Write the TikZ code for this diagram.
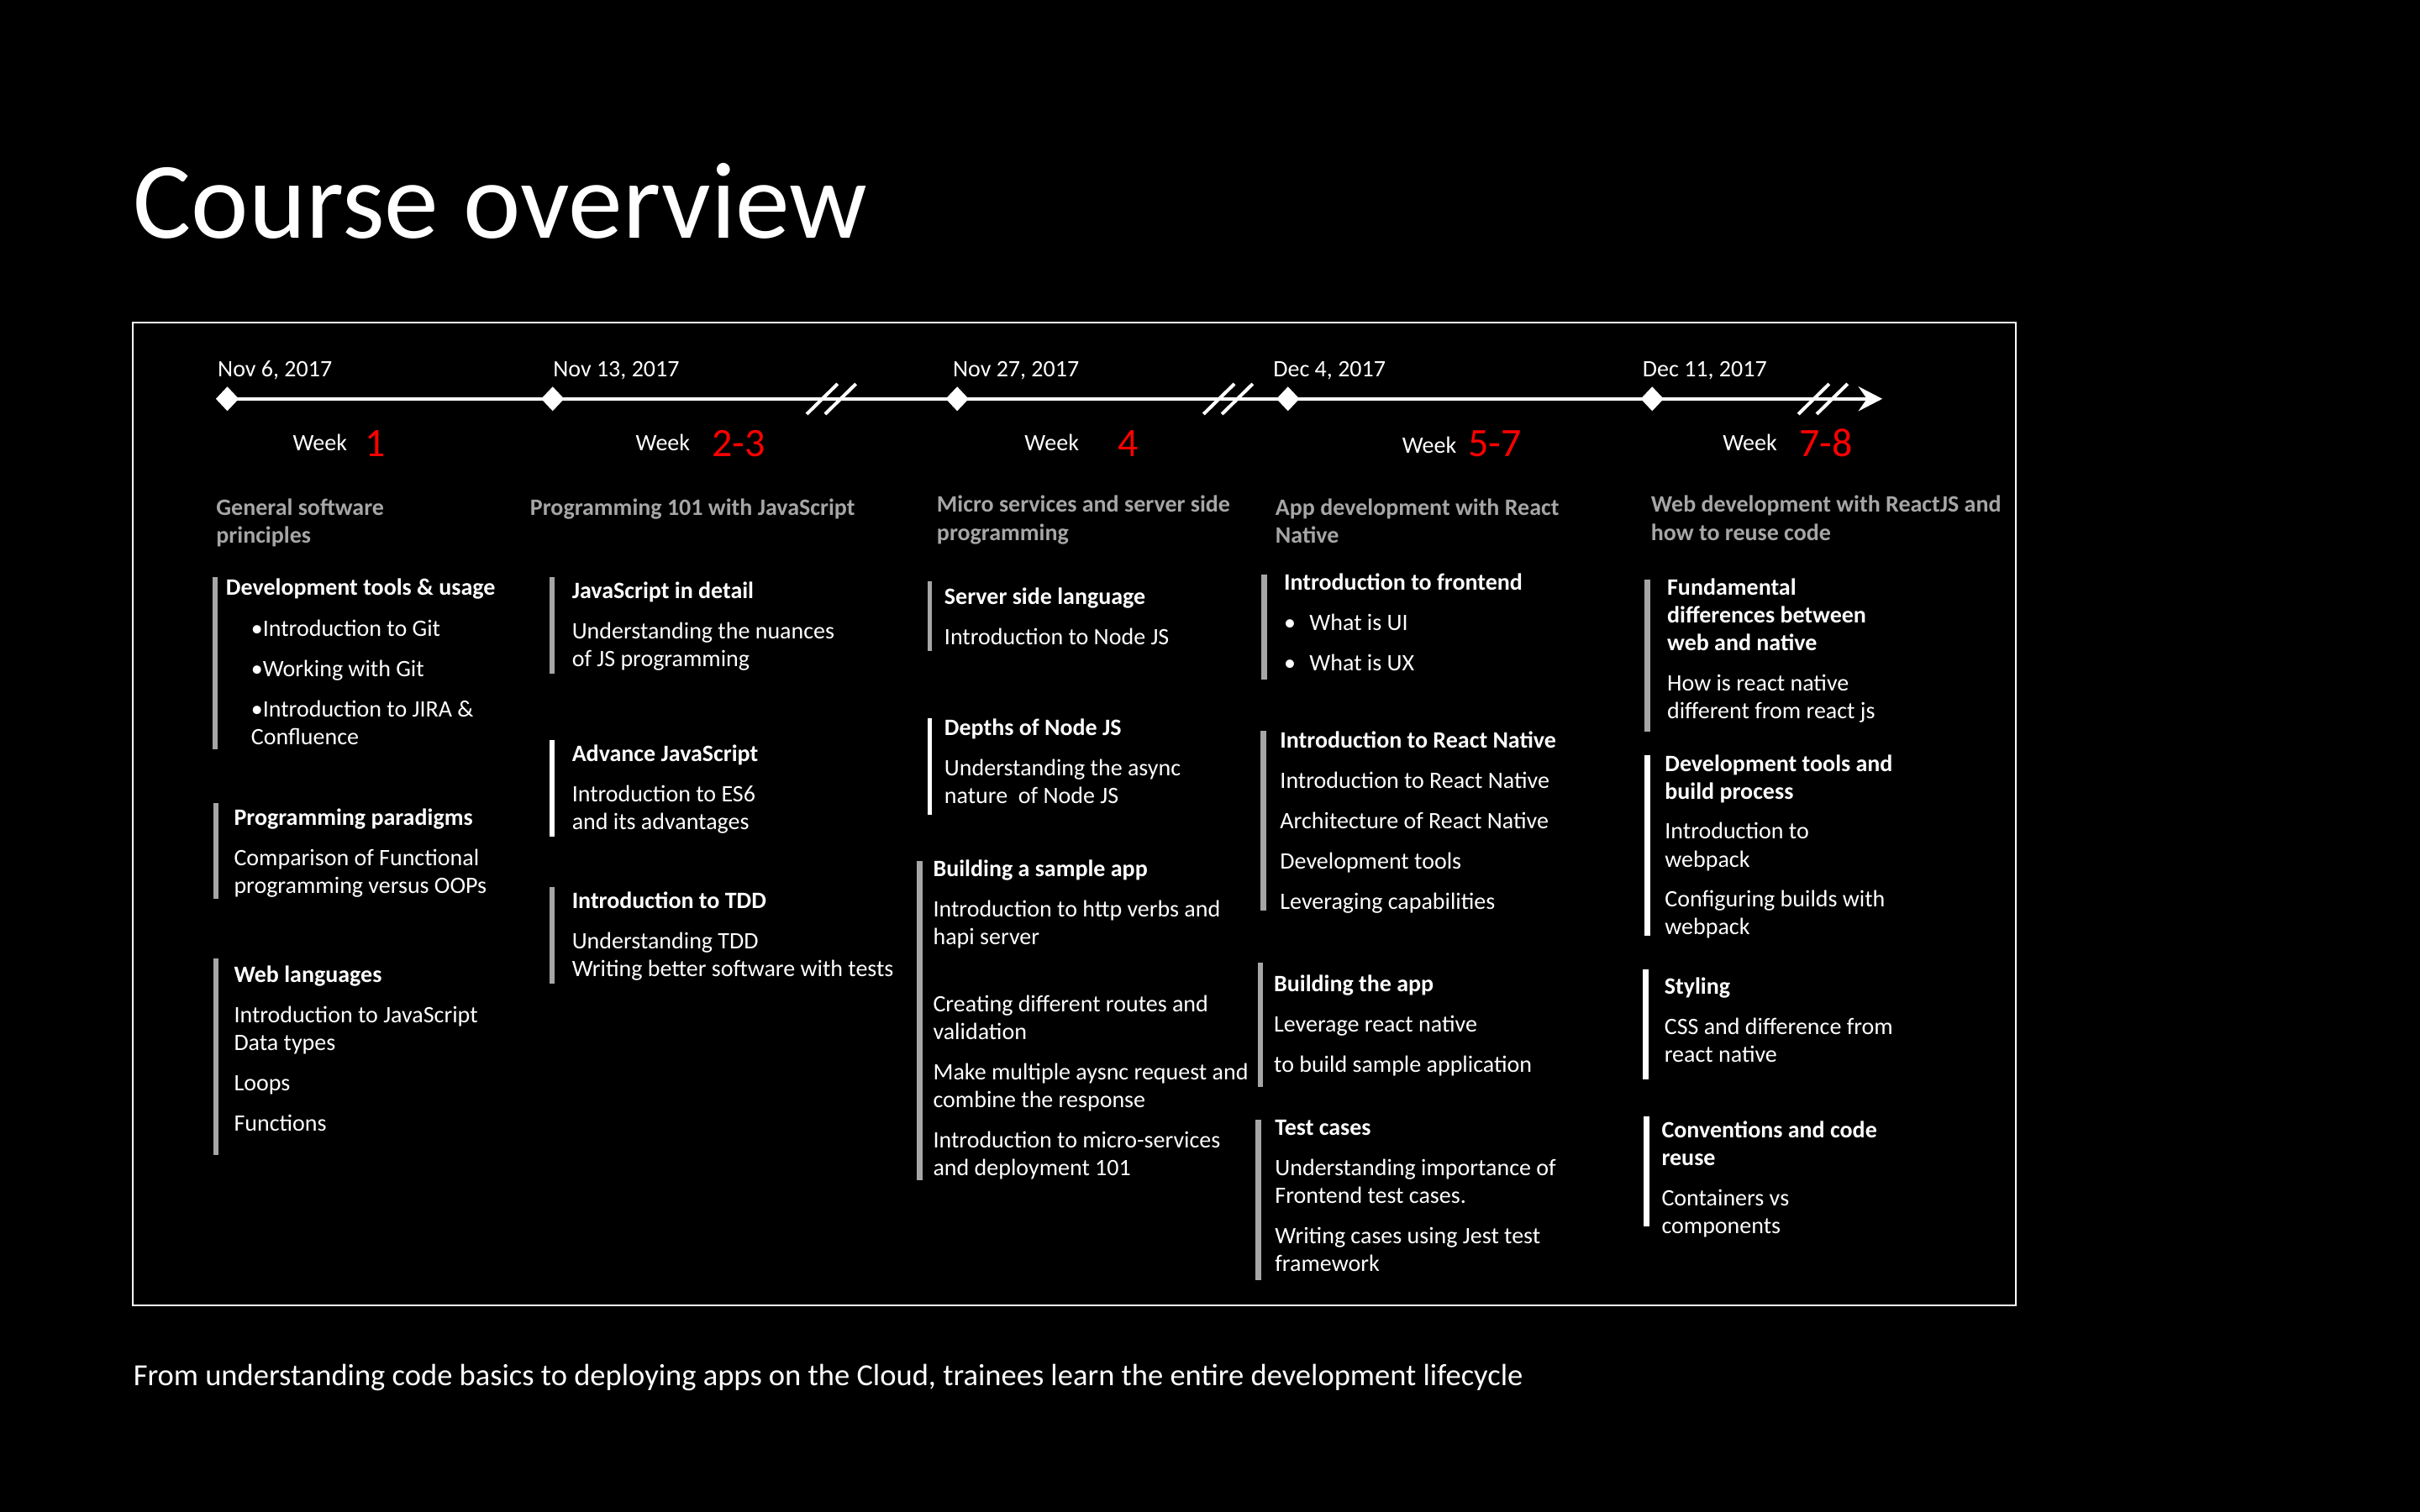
\documentclass[tikz,border=0pt]{standalone}
\usepackage{fontspec}
\setmainfont{Carlito}
\usetikzlibrary{shapes.geometric,arrows.meta}
\definecolor{headgray}{HTML}{A6A6A6}
\definecolor{bargray}{HTML}{A6A6A6}
\definecolor{weekred}{HTML}{FF0000}
\newcommand{\smallfont}{\fontsize{7}{8.27}\selectfont}
\newcommand{\bul}{\makebox[7.6pt][l]{•}}
\newcommand{\rows}[1]{\begin{tabular}[t]{@{}l@{}}#1\end{tabular}}

\begin{document}
\begin{tikzpicture}[x=0.4592pt,y=-0.4592pt,
        every node/.style={inner sep=0pt,anchor=base west,text=white},
        stone node/.style={diamond,fill=white,minimum width=7pt,minimum height=7.4pt,anchor=center},
        date node/.style={font=\smallfont},
        week node/.style={font=\smallfont},
        num node/.style={font=\fontsize{12}{14}\selectfont,text=weekred},
        item node/.style={font=\smallfont},
        head node/.style={font=\smallfont\bfseries,text=headgray},
        gray bar/.style={fill=bargray},
        white bar/.style={fill=white},
        break mark/.style={draw=white,line width=1pt}]

        \path[use as bounding box,fill=black] (0,0) rectangle (1568,980);

        \node[font=\fontsize{32.4}{38}\selectfont] (title) at (86,154.3) {Course overview};
        \draw[white,line width=0.5pt] (86,209) rectangle (1306,846);

        \node[stone node] (d1) at (147.3,258.5) {};
        \node[stone node] (d2) at (358.1,258.5) {};
        \node[stone node] (d3) at (620.2,258.5) {};
        \node[stone node] (d4) at (834.5,258.5) {};
        \node[stone node] (d5) at (1070.5,258.5) {};
        \coordinate (tip) at (1219.6,258.5);
        \draw[white,line width=1pt,-{Stealth[length=7.1pt,width=7.3pt,inset=2.5pt]}] (d1.center) -- (tip);
        \foreach \c in {538.2,795.3,1180.7}
          \draw[break mark] (\c-15.5,268.4) -- ++(20,-19.6) (\c-3.6,268.4) -- ++(20,-19.6);

        \node[date node] (dt1) at (140.7,244.1) {Nov 6, 2017};
        \node[date node] (dt2) at (358,244.1) {Nov 13, 2017};
        \node[date node] (dt3) at (617,244.1) {Nov 27, 2017};
        \node[date node] (dt4) at (824.6,244.1) {Dec 4, 2017};
        \node[date node] (dt5) at (1063.9,244.1) {Dec 11, 2017};

        \node[week node] (wk1) at (189.3,292.2) {Week};
        \node[week node] (wk2) at (411.5,292.2) {Week};
        \node[week node] (wk3) at (663.5,292.2) {Week};
        \node[week node] (wk4) at (908.1,293.7) {Week};
        \node[week node] (wk5) at (1115.8,292.2) {Week};
        \node[num node] (nm1) at (236.2,295.8) {1};
        \node[num node] (nm2) at (460.8,295.8) {2-3};
        \node[num node] (nm3) at (724,295.8) {4};
        \node[num node] (nm4) at (951,295.8) {5-7};
        \node[num node] (nm5) at (1165.5,295.8) {7-8};

        \node[head node] (hd1) at (139.7,334) {\rows{General software\\principles}};
        \node[head node] (hd2) at (343.1,334) {Programming 101 with JavaScript};
        \node[head node] (hd3) at (606.6,332.1) {\rows{Micro services and server side\\programming}};
        \node[head node] (hd4) at (826,334) {\rows{App development with React\\Native}};
        \node[head node] (hd5) at (1069.3,332.1) {\rows{Web development with ReactJS and\\how to reuse code}};

        \fill[gray bar] (138,374) rectangle (141.2,485.5);
        \node[item node,font=\smallfont\bfseries] (b11) at (146,386) {Development tools \& usage};
        \node[item node] (b11i) at (162.3,412.3) {\rows{•Introduction to Git\\[3.7pt]•Working with Git\\[3.7pt]•Introduction to JIRA \&\\Confluence}};
        \fill[gray bar] (138.5,520.3) rectangle (141.7,582.8);
        \node[item node] (b12) at (151.2,534.8) {\rows{\textbf{Programming paradigms}\\[3.7pt]Comparison of Functional\\programming versus OOPs}};
        \fill[gray bar] (138.5,621) rectangle (141.7,748.5);
        \node[item node] (b13) at (151.2,636.8) {\rows{\textbf{Web languages}\\[3.7pt]Introduction to JavaScript\\Data types\\[3.7pt]Loops\\[3.7pt]Functions}};

        \fill[gray bar] (356.2,374) rectangle (359.5,436.5);
        \node[item node] (b21) at (370.2,387.8) {\rows{\textbf{JavaScript in detail}\\[3.7pt]Understanding the nuances\\of JS programming}};
        \fill[white bar] (356.2,479.8) rectangle (359.5,542.3);
        \node[item node] (b22) at (370.2,493.5) {\rows{\textbf{Advance JavaScript}\\[3.7pt]Introduction to ES6\\and its advantages}};
        \fill[gray bar] (356.2,574.8) rectangle (359.5,637.3);
        \node[item node] (b23) at (370.2,589) {\rows{\textbf{Introduction to TDD}\\[3.7pt]Understanding TDD\\Writing better software with tests}};

        \fill[gray bar] (600.8,377) rectangle (604,422.2);
        \node[item node] (b31) at (611.5,391.7) {\rows{\textbf{Server side language}\\[3.7pt]Introduction to Node JS}};
        \fill[white bar] (600.8,465.6) rectangle (604,528.3);
        \node[item node] (b32) at (611.5,476.9) {\rows{\textbf{Depths of Node JS}\\[3.7pt]Understanding the async\\nature\ \ of Node JS}};
        \fill[gray bar] (594.2,557.9) rectangle (597.8,765);
        \node[item node] (b33) at (604.2,568) {\rows{\textbf{Building a sample app}\\[3.7pt]Introduction to http verbs and\\hapi server\\[11.9pt]Creating different routes and\\validation\\[3.7pt]Make multiple aysnc request and\\combine the response\\[3.7pt]Introduction to micro-services\\and deployment 101}};

        \fill[gray bar] (817.2,372.4) rectangle (820.8,440.3);
        \node[item node] (b41) at (831.5,382.5) {\rows{\textbf{Introduction to frontend}\\[3.7pt]\bul What is UI\\[3.7pt]\bul What is UX}};
        \fill[gray bar] (816.5,473.9) rectangle (820.2,590.3);
        \node[item node] (b42) at (829,484.9) {\rows{\textbf{Introduction to React Native}\\[3.7pt]Introduction to React Native\\[3.7pt]Architecture of React Native\\[3.7pt]Development tools\\[3.7pt]Leveraging capabilities}};
        \fill[gray bar] (815,623.9) rectangle (818.3,704.6);
        \node[item node] (b43) at (825,642.8) {\rows{\textbf{Building the app}\\[3.7pt]Leverage react native\\[3.7pt]to build sample application}};
        \fill[gray bar] (813.5,726) rectangle (817.2,829.8);
        \node[item node] (b44) at (825.7,736) {\rows{\textbf{Test cases}\\[3.7pt]Understanding importance of\\Frontend test cases.\\[3.7pt]Writing cases using Jest test\\framework}};

        \fill[gray bar] (1065.6,375.9) rectangle (1069.4,474.2);
        \node[item node] (b51) at (1079.8,385.8) {\rows{\textbf{Fundamental}\\\textbf{differences between}\\\textbf{web and native}\\[3.7pt]How is react native\\different from react js}};
        \fill[white bar] (1065.3,489.6) rectangle (1069.3,606.3);
        \node[item node] (b52) at (1078.3,499.8) {\rows{\textbf{Development tools and}\\\textbf{build process}\\[3.7pt]Introduction to\\webpack\\[3.7pt]Configuring builds with\\webpack}};
        \fill[white bar] (1064.4,628.1) rectangle (1068.4,699.6);
        \node[item node] (b53) at (1078,644.2) {\rows{\textbf{Styling}\\[3.7pt]CSS and difference from\\react native}};
        \fill[white bar] (1064.9,723.5) rectangle (1068.5,795);
        \node[item node] (b54) at (1076.2,737.5) {\rows{\textbf{Conventions and code}\\\textbf{reuse}\\[3.7pt]Containers vs\\components}};

        \node[font=\fontsize{9.13}{11}\selectfont] (foot) at (86,898) {From understanding code basics to deploying apps on the Cloud, trainees learn the entire development lifecycle};
    \end{tikzpicture}
\end{document}
